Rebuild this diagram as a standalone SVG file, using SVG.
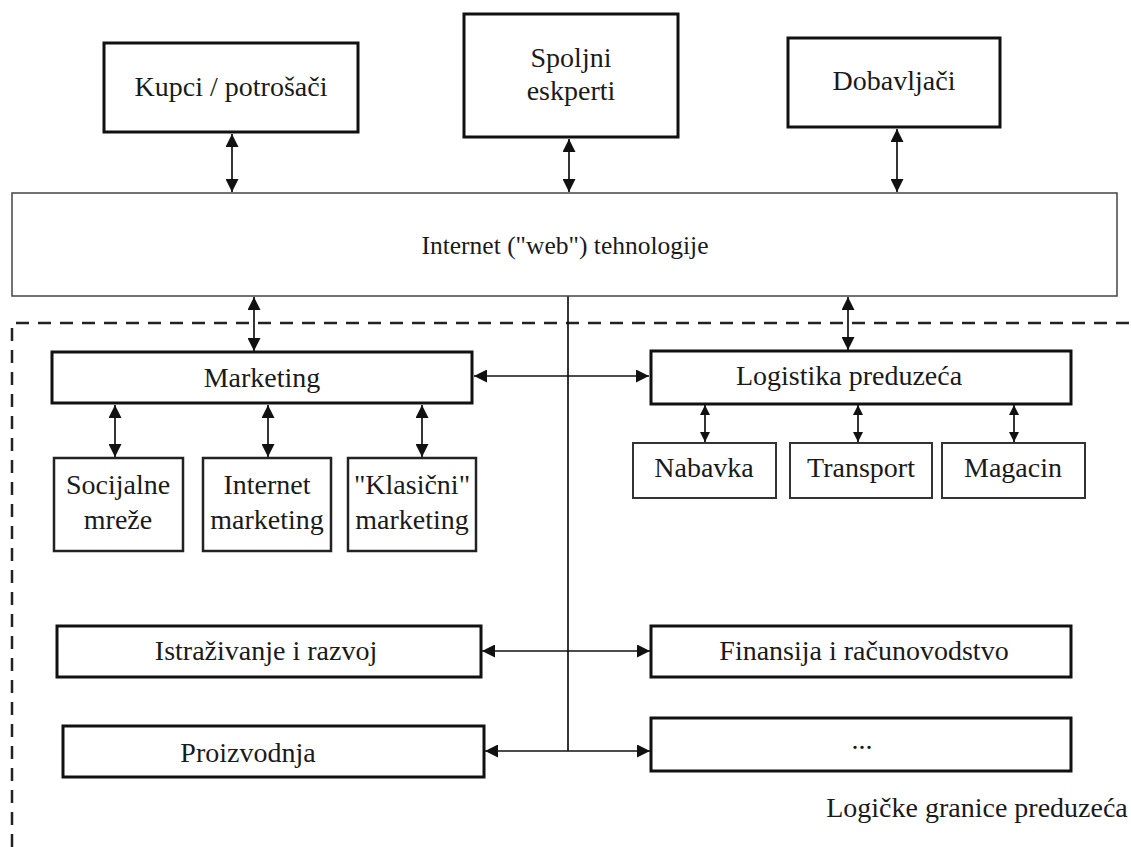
<svg xmlns="http://www.w3.org/2000/svg" width="1131" height="847" viewBox="0 0 1131 847">
  <style>
    .box { fill: #ffffff; stroke: #111111; stroke-width: 3; }
    .box-thin { fill: #ffffff; stroke: #444444; stroke-width: 1.5; }
    .box-mid { fill: #ffffff; stroke: #222222; stroke-width: 2.5; }
    .box-sm { fill: #ffffff; stroke: #333333; stroke-width: 2; }
    .lbl { font-family: 'Liberation Serif', 'Times New Roman', 'DejaVu Serif', serif; font-size: 28px; fill: #1a1a1a; text-anchor: middle; }
    .lbl-wide { font-size: 25.5px; }
    .conn { fill: none; stroke: #111111; stroke-width: 1.7; }
    .bound { fill: none; stroke: #222222; stroke-width: 2.5; stroke-dasharray: 13 9; }
  </style>
  <defs>
    <marker id="ah" viewBox="0 0 10 10" refX="10" refY="5" markerWidth="13" markerHeight="13" markerUnits="userSpaceOnUse" orient="auto-start-reverse">
      <path d="M0,0 L10,5 L0,10 z" fill="#111111"/>
    </marker>
    <marker id="ahs" viewBox="0 0 10 10" refX="10" refY="5" markerWidth="10" markerHeight="10" markerUnits="userSpaceOnUse" orient="auto-start-reverse">
      <path d="M0,0 L10,5 L0,10 z" fill="#111111"/>
    </marker>
  </defs>

  <!-- company boundary -->
  <g id="boundary">
    <path class="bound" d="M12,847 L12,323 L1131,323"/>
    <text class="lbl" x="977" y="817">Logičke granice preduzeća</text>
  </g>

  <!-- connectors -->
  <g id="connectors">
    <line class="conn" x1="232" y1="134" x2="232" y2="192" marker-start="url(#ah)" marker-end="url(#ah)"/>
    <line class="conn" x1="569" y1="139" x2="569" y2="192" marker-start="url(#ah)" marker-end="url(#ah)"/>
    <line class="conn" x1="897" y1="129" x2="897" y2="192" marker-start="url(#ah)" marker-end="url(#ah)"/>
    <line class="conn" x1="254" y1="297" x2="254" y2="351" marker-start="url(#ah)" marker-end="url(#ah)"/>
    <line class="conn" x1="848" y1="297" x2="848" y2="350" marker-start="url(#ah)" marker-end="url(#ah)"/>
    <line class="conn" x1="474" y1="376" x2="649" y2="376" marker-start="url(#ah)" marker-end="url(#ah)"/>
    <line class="conn" x1="115" y1="405" x2="115" y2="457" marker-start="url(#ah)" marker-end="url(#ah)"/>
    <line class="conn" x1="268" y1="405" x2="268" y2="457" marker-start="url(#ah)" marker-end="url(#ah)"/>
    <line class="conn" x1="422" y1="405" x2="422" y2="457" marker-start="url(#ah)" marker-end="url(#ah)"/>
    <line class="conn" x1="705" y1="405" x2="705" y2="442" marker-start="url(#ahs)" marker-end="url(#ahs)"/>
    <line class="conn" x1="858" y1="405" x2="858" y2="442" marker-start="url(#ahs)" marker-end="url(#ahs)"/>
    <line class="conn" x1="1014" y1="405" x2="1014" y2="442" marker-start="url(#ahs)" marker-end="url(#ahs)"/>
    <line class="conn" x1="568" y1="296" x2="568" y2="751"/>
    <line class="conn" x1="482" y1="651" x2="650" y2="651" marker-start="url(#ah)" marker-end="url(#ah)"/>
    <line class="conn" x1="485" y1="751" x2="650" y2="751" marker-start="url(#ah)" marker-end="url(#ah)"/>
  </g>

  <g id="kupci">
    <rect class="box" x="104" y="43" width="254" height="89"/>
    <text class="lbl" x="231" y="96">Kupci / potrošači</text>
  </g>
  <g id="spoljni-eksperti">
    <rect class="box" x="464" y="14" width="214" height="123"/>
    <text class="lbl" x="571" y="67">Spoljni</text>
    <text class="lbl" x="571" y="100">eskperti</text>
  </g>
  <g id="dobavljaci">
    <rect class="box" x="788" y="38" width="212" height="89"/>
    <text class="lbl" x="894" y="90">Dobavljači</text>
  </g>
  <g id="internet">
    <rect class="box-thin" x="12" y="193" width="1105" height="103"/>
    <text class="lbl lbl-wide" x="565" y="254">Internet ("web") tehnologije</text>
  </g>
  <g id="marketing">
    <rect class="box" x="52" y="352" width="420" height="51"/>
    <text class="lbl" x="262" y="387">Marketing</text>
  </g>
  <g id="logistika">
    <rect class="box" x="651" y="351" width="420" height="53"/>
    <text class="lbl" x="849" y="385">Logistika preduzeća</text>
  </g>
  <g id="socijalne-mreze">
    <rect class="box-mid" x="54" y="458" width="129" height="93"/>
    <text class="lbl" x="118" y="494">Socijalne</text>
    <text class="lbl" x="118" y="529">mreže</text>
  </g>
  <g id="internet-marketing">
    <rect class="box-mid" x="203" y="458" width="128" height="93"/>
    <text class="lbl" x="267" y="494">Internet</text>
    <text class="lbl" x="267" y="529">marketing</text>
  </g>
  <g id="klasicni-marketing">
    <rect class="box-mid" x="348" y="458" width="128" height="93"/>
    <text class="lbl" x="412" y="494">"Klasični"</text>
    <text class="lbl" x="412" y="529">marketing</text>
  </g>
  <g id="nabavka">
    <rect class="box-sm" x="633" y="443" width="143" height="55"/>
    <text class="lbl" x="704" y="477">Nabavka</text>
  </g>
  <g id="transport">
    <rect class="box-sm" x="790" y="443" width="142" height="55"/>
    <text class="lbl" x="861" y="477">Transport</text>
  </g>
  <g id="magacin">
    <rect class="box-sm" x="942" y="443" width="143" height="55"/>
    <text class="lbl" x="1013" y="477">Magacin</text>
  </g>
  <g id="istrazivanje">
    <rect class="box" x="57" y="626" width="424" height="51"/>
    <text class="lbl" x="266" y="660">Istraživanje i razvoj</text>
  </g>
  <g id="finansija">
    <rect class="box" x="651" y="626" width="420" height="51"/>
    <text class="lbl" x="864" y="660">Finansija i računovodstvo</text>
  </g>
  <g id="proizvodnja">
    <rect class="box" x="63" y="726" width="421" height="51"/>
    <text class="lbl" x="248" y="762">Proizvodnja</text>
  </g>
  <g id="ostalo">
    <rect class="box" x="651" y="718" width="420" height="53"/>
    <text class="lbl" x="862" y="749">...</text>
  </g>
</svg>
